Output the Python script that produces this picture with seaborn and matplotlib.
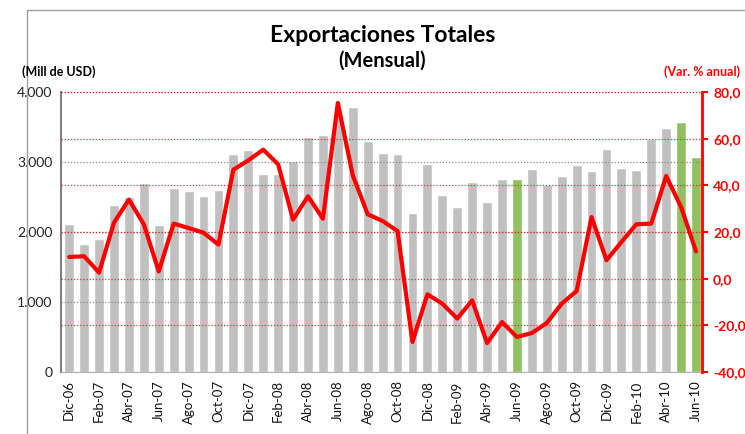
import matplotlib
matplotlib.use("Agg")
import matplotlib.pyplot as plt
from matplotlib.lines import Line2D
from matplotlib.ticker import FixedLocator, FuncFormatter
import seaborn as sns
import pandas as pd
import numpy as np

# Monthly exports Dic-06 .. Jun-10
months = ['Dic-06', 'Ene-07', 'Feb-07', 'Mar-07', 'Abr-07', 'May-07', 'Jun-07',
          'Jul-07', 'Ago-07', 'Sep-07', 'Oct-07', 'Nov-07', 'Dic-07', 'Ene-08',
          'Feb-08', 'Mar-08', 'Abr-08', 'May-08', 'Jun-08', 'Jul-08', 'Ago-08',
          'Sep-08', 'Oct-08', 'Nov-08', 'Dic-08', 'Ene-09', 'Feb-09', 'Mar-09',
          'Abr-09', 'May-09', 'Jun-09', 'Jul-09', 'Ago-09', 'Sep-09', 'Oct-09',
          'Nov-09', 'Dic-09', 'Ene-10', 'Feb-10', 'Mar-10', 'Abr-10', 'May-10',
          'Jun-10']

exports = [2110, 1830, 1905, 2390, 2500, 2705, 2095,
           2630, 2580, 2510, 2600, 3115, 3175, 2835,
           2835, 3010, 3350, 3385, 3670, 3785, 3295,
           3135, 3120, 2275, 2965, 2525, 2350, 2720,
           2435, 2750, 2750, 2895, 2675, 2795, 2950,
           2865, 3190, 2915, 2880, 3335, 3490, 3570,
           3070]

var_anual = [9.3, 9.6, 2.6, 24.0, 33.9, 23.3, 3.1,
             23.6, 21.7, 19.7, 14.6, 46.7, 50.7, 55.3,
             49.0, 25.3, 35.3, 25.7, 75.3, 44.3, 27.6,
             24.7, 20.4, -27.1, -6.7, -10.7, -17.1, -9.3,
             -27.6, -18.6, -25.0, -23.3, -19.0, -10.7, -5.3,
             26.4, 7.9, 15.7, 23.3, 23.6, 44.0, 30.7,
             11.7]

highlight = ['Jun-09', 'May-10', 'Jun-10']

left_ticks = [0, 1000, 2000, 3000, 4000]
right_ticks = [-40, -20, 0, 20, 40, 60, 80]

GRAY = '#C0C0C0'
GREEN = '#92D050'
RED = '#FF0000'

sns.set_theme(style="white")
plt.rcParams['font.family'] = ['Lato', 'DejaVu Sans']

df = pd.DataFrame({'mes': months, 'exp': exports, 'var': var_anual})
df['pos'] = np.arange(len(df))
df['grupo'] = np.where(df['mes'].isin(highlight), 'g', 'n')

fig = plt.figure(figsize=(7.45, 4.34), dpi=100)
W, H = 745, 434
ax = fig.add_axes([61 / W, 1 - 372 / H, (702 - 61) / W, (372 - 92) / H])

sns.barplot(data=df, x='pos', y='exp', hue='grupo',
            palette={'n': GRAY, 'g': GREEN}, dodge=False, width=0.66,
            native_scale=True, legend=False, ax=ax, zorder=2)

ax.set_xlim(-0.55, len(df) - 0.6)
ax.set_ylim(0, 4000)
ax.set_yticks(left_ticks)
ax.yaxis.set_major_formatter(FuncFormatter(lambda v, p: f"{int(v):,}".replace(',', '.')))
ax.tick_params(axis='y', labelsize=10, colors='#222222', length=0, pad=6)
# gridlines sit over the bars, as in the spreadsheet chart
for v in left_ticks[1:]:
    ax.axhline(v, color='#8A8A8A', lw=0.9, ls=(0, (1, 1.5)), zorder=3)

# x axis: labels every other month, tick marks at boundaries
ax.set_xticks(df['pos'][::2])
ax.set_xticklabels(df['mes'][::2], rotation=90, fontsize=9.5, color='#111111')
ax.tick_params(axis='x', length=0, pad=6)
ax.xaxis.set_minor_locator(FixedLocator(np.arange(-0.5, len(df), 2)))
ax.tick_params(axis='x', which='minor', length=4, color='#808080', width=1)
ax.set_xlabel('')
ax.set_ylabel('')

for s in ['top', 'right']:
    ax.spines[s].set_visible(False)
ax.spines['left'].set_color('#808080')
ax.spines['left'].set_linewidth(1.5)
ax.spines['bottom'].set_color('#B0B0B0')
ax.spines['bottom'].set_linewidth(0.8)

ax2 = ax.twinx()
for v in right_ticks:
    ax2.axhline(v, color=RED, lw=0.9, ls=(0, (1, 1.5)), alpha=0.8, zorder=1)
sns.lineplot(data=df, x='pos', y='var', color=RED, lw=3, ax=ax2, zorder=5)
ax2.set_ylim(-40, 80)
ax2.set_yticks(right_ticks)
ax2.yaxis.set_major_formatter(FuncFormatter(lambda v, p: f"{v:.1f}".replace('.', ',')))
ax2.tick_params(axis='y', labelsize=10, colors=RED, length=4, width=1.5, pad=4)
for t in ax2.get_yticklabels():
    t.set_fontweight('bold')
ax2.set_ylabel('')
for s in ['top', 'left', 'bottom']:
    ax2.spines[s].set_visible(False)
ax2.spines['right'].set_color(RED)
ax2.spines['right'].set_linewidth(2)

fig.text(383 / W, 1 - 35 / H, 'Exportaciones Totales', ha='center', va='center',
         fontsize=16.5, fontweight='bold', color='black')
fig.text(382 / W, 1 - 61 / H, '(Mensual)', ha='center', va='center',
         fontsize=14.5, fontweight='bold', color='black')
fig.text(22 / W, 1 - 72 / H, '(Mill de USD)', ha='left', va='center',
         fontsize=9, fontweight='bold', color='black')
fig.text(740 / W, 1 - 72 / H, '(Var. % anual)', ha='right', va='center',
         fontsize=9, fontweight='bold', color=RED)

# spreadsheet frame lines around the chart
fig.add_artist(Line2D([27 / W, 27 / W], [0, 1 - 10 / H], color='#A0A0A0', lw=1))
fig.add_artist(Line2D([27 / W, 1], [1 - 10 / H, 1 - 10 / H], color='#A0A0A0', lw=1))

fig.savefig('out.png', dpi=100)
